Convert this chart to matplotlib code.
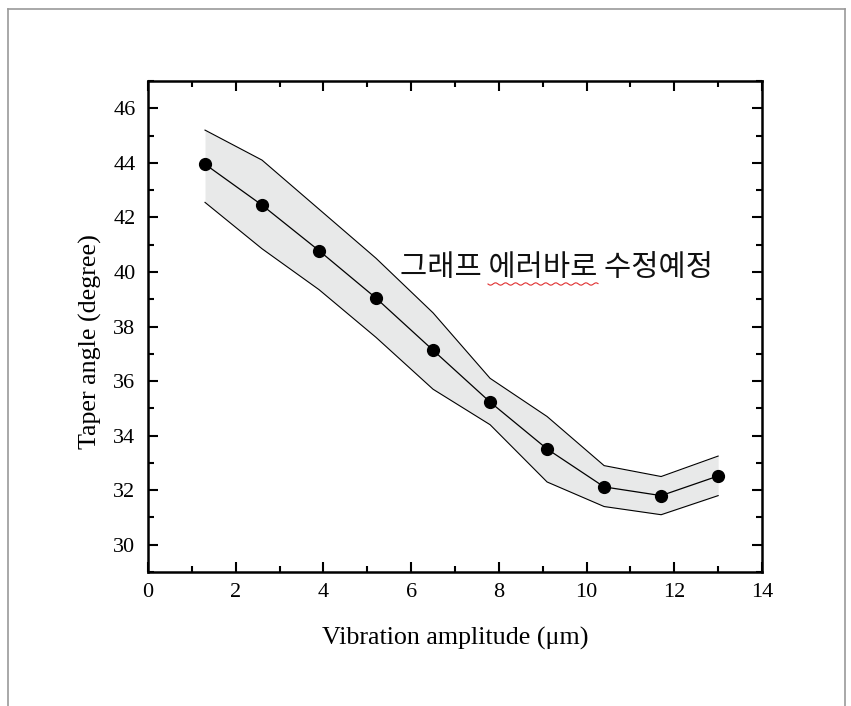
import numpy as np
import matplotlib
matplotlib.use("Agg")
import matplotlib.pyplot as plt
from matplotlib.lines import Line2D

# Data
amplitude = [1.3, 2.6, 3.9, 5.2, 6.5, 7.8, 9.1, 10.4, 11.7, 13.0]
taper_angle = [43.95, 42.45, 40.78, 39.04, 37.13, 35.23, 33.51, 32.12, 31.8, 32.52]
upper_band = [45.2, 44.1, 42.3, 40.5, 38.5, 36.1, 34.7, 32.9, 32.5, 33.25]
lower_band = [42.55, 40.85, 39.35, 37.6, 35.7, 34.4, 32.3, 31.4, 31.1, 31.8]
x_ticks = [0, 2, 4, 6, 8, 10, 12, 14]
y_ticks = [30, 32, 34, 36, 38, 40, 42, 44, 46]
note_text = "그래프 에러바로 수정예정"

W, H = 851, 706
fig = plt.figure(figsize=(W / 100, H / 100), dpi=100)
fig.patch.set_facecolor("white")

# Document-like frame border (open at bottom)
frame_col = "#9a9a9a"
fig.add_artist(Line2D([8 / W, 8 / W], [0, 1 - 9 / H], transform=fig.transFigure, color=frame_col, lw=1.2))
fig.add_artist(Line2D([845 / W, 845 / W], [0, 1 - 9 / H], transform=fig.transFigure, color=frame_col, lw=1.2))
fig.add_artist(Line2D([8 / W, 845 / W], [1 - 9 / H, 1 - 9 / H], transform=fig.transFigure, color=frame_col, lw=1.2))

ax = fig.add_axes([148 / W, 1 - 572 / H, (762 - 148) / W, (572 - 81) / H])

serif = "Liberation Serif"

ax.fill_between(amplitude, lower_band, upper_band, color="#e8e9e9", lw=0, zorder=1)
ax.plot(amplitude, upper_band, color="black", lw=0.8, zorder=2)
ax.plot(amplitude, lower_band, color="black", lw=0.8, zorder=2)
ax.plot(amplitude, taper_angle, color="black", lw=0.9, marker="o", ms=8.5,
        markerfacecolor="black", markeredgecolor="black", zorder=3)

ax.set_xlim(0, 14)
ax.set_ylim(29, 47)
ax.set_xticks(x_ticks)
ax.set_yticks(y_ticks)
ax.set_xticks(np.arange(1, 14, 2), minor=True)
ax.set_yticks(np.arange(29, 48, 2), minor=True)

ax.tick_params(which="both", direction="in", top=True, right=True, width=1.5)
ax.tick_params(which="major", length=7)
ax.tick_params(which="minor", length=4)
ax.tick_params(axis="x", pad=8)
ax.tick_params(axis="y", pad=9)
for lab in ax.get_xticklabels() + ax.get_yticklabels():
    lab.set_fontfamily(serif)
    lab.set_fontsize(16)

for s in ax.spines.values():
    s.set_linewidth(1.8)

ax.set_xlabel("Vibration amplitude (μm)", fontfamily=serif, fontsize=18.7)
ax.set_ylabel("Taper angle (degree)", fontfamily=serif, fontsize=18.7)
ax.xaxis.set_label_coords(0.5, -(638 - 572) / (572 - 81), transform=ax.transAxes)
ax.xaxis.label.set_va("center")
ax.yaxis.set_label_coords(-(148 - 90) / (762 - 148), (572 - 342) / (572 - 81), transform=ax.transAxes)
ax.yaxis.label.set_va("center")

# Annotation text
fig.text(400 / W, 1 - 268 / H, note_text, fontfamily=["Noto Sans CJK KR", "DejaVu Sans"],
         fontsize=21.3, va="center", ha="left", color="#111111")

# Red wavy spell-check underline under the second word
wx = np.linspace(488, 598, 80)
wy = 284 + 1.2 * np.sin((wx - 488) / 1.6)
fig.add_artist(Line2D(wx / W, 1 - wy / H, transform=fig.transFigure, color="#e03030", lw=0.8))

fig.savefig("out.png", dpi=100, facecolor="white")
